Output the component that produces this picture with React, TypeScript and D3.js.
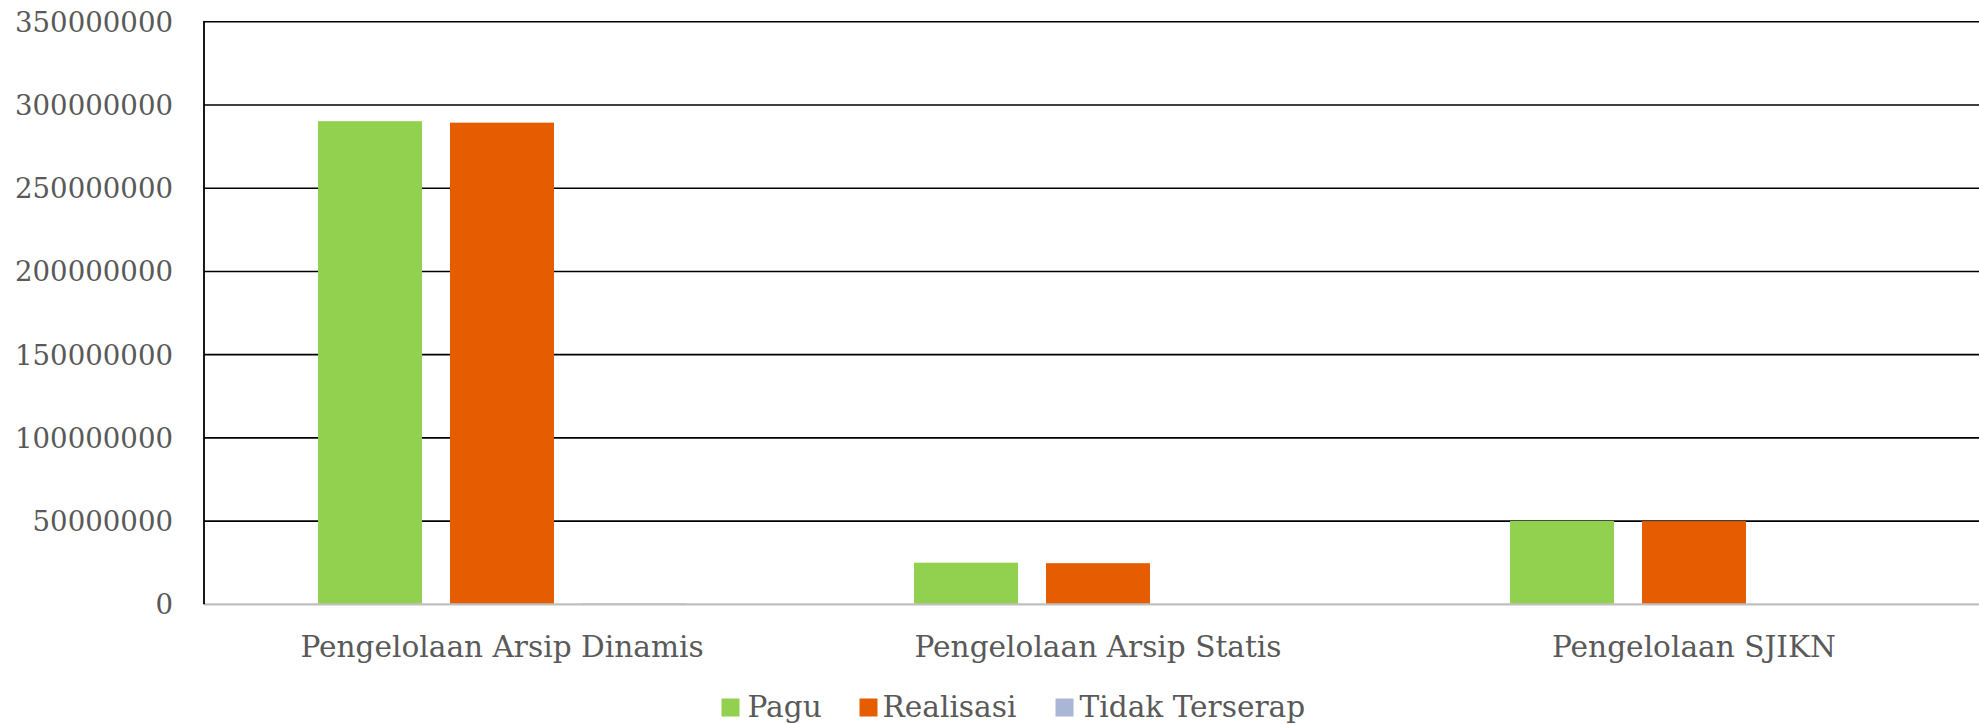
import React from "react";
import * as d3 from "d3";

const categories = ["Pengelolaan Arsip Dinamis", "Pengelolaan Arsip Statis", "Pengelolaan SJIKN"];
const seriesNames = ["Pagu", "Realisasi", "Tidak Terserap"];
const pagu = [290300000, 25000000, 50100000];
const realisasi = [289400000, 24700000, 50000000];
const tidakTerserap = [500000, 200000, 100000];
const yTicks = [0, 50000000, 100000000, 150000000, 200000000, 250000000, 300000000, 350000000];

const colors = ["#92d050", "#e65c00", "#a9b6d6"];
const textColor = "#595959";
const font = "'DejaVu Serif', serif";

const W = 1979;
const H = 725;
const left = 204;
const top = 21.8;
const bottom = 604.3;

export default function App() {
  const series = [pagu, realisasi, tidakTerserap];

  const y = d3.scaleLinear().domain([0, 350000000]).range([bottom, top]);
  // plot area runs a bit past the right edge of the picture
  const x0 = d3.scaleBand<string>().domain(categories).range([left, left + 1788]);
  const x1 = d3.scaleBand<string>()
    .domain(seriesNames)
    .range([0, x0.bandwidth()])
    .paddingInner(0.212)
    .paddingOuter(0.864);

  const legend = [
    { name: seriesNames[0], sx: 721.5, tx: 747.5 },
    { name: seriesNames[1], sx: 859.5, tx: 882.5 },
    { name: seriesNames[2], sx: 1055.5, tx: 1079.5 },
  ];

  return (
    <svg width={W} height={H} style={{ position: "absolute", left: 0, top: 0, background: "#fff" }}>
      {/* gridlines */}
      {yTicks.filter(t => t > 0).map(t => (
        <line key={t} x1={left} x2={W} y1={y(t)} y2={y(t)} stroke="#000" strokeWidth={1.6} />
      ))}
      {/* y tick labels */}
      {yTicks.map(t => (
        <text key={"l" + t} x={173} y={y(t)} dy="0.36em" textAnchor="end"
          fontFamily={font} fontSize={27.6} fill={textColor}>{String(t)}</text>
      ))}
      {/* bars */}
      {categories.map((c, i) => (
        <g key={c} transform={`translate(${x0(c)},0)`}>
          {seriesNames.map((s, j) => (
            <rect key={s} x={x1(s)} width={x1.bandwidth()} y={y(series[j][i])}
              height={bottom - y(series[j][i])} fill={colors[j]} />
          ))}
        </g>
      ))}
      {/* axes */}
      <line x1={left} x2={W} y1={bottom} y2={bottom} stroke="#bfbfbf" strokeWidth={2.2} />
      <line x1={left} x2={left} y1={top - 0.8} y2={bottom} stroke="#000" strokeWidth={1.8} />
      {/* category labels */}
      {categories.map(c => (
        <text key={"c" + c} x={(x0(c) as number) + x0.bandwidth() / 2} y={646} dy="0.36em"
          textAnchor="middle" fontFamily={font} fontSize={29.6} fill={textColor}>{c}</text>
      ))}
      {/* legend */}
      {legend.map((d, j) => (
        <g key={d.name}>
          <rect x={d.sx} y={698.5} width={18} height={18} fill={colors[j]} />
          <text x={d.tx} y={717} fontFamily={font} fontSize={29.6} fill={textColor}>{d.name}</text>
        </g>
      ))}
    </svg>
  );
}
